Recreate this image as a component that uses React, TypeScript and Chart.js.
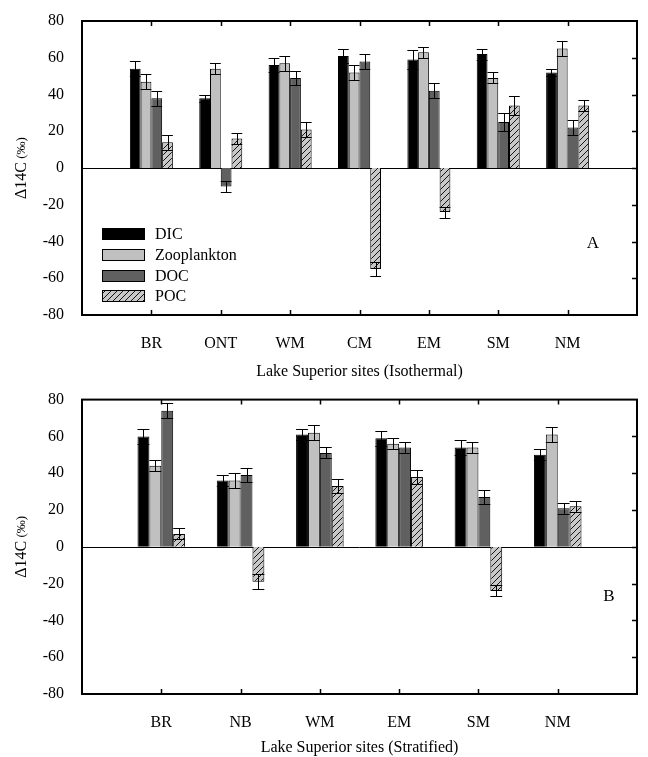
import React, { useEffect, useRef } from "react";
import { Chart, registerables } from "chart.js";
Chart.register(...registerables);

// ---- data ----
const seriesNames = ["DIC", "Zooplankton", "DOC", "POC"];

const sitesA = ["BR", "ONT", "WM", "CM", "EM", "SM", "NM"];
const dicA = [54, 38, 56, 61, 59, 62, 52];
const dicErrA = [4, 2, 4, 4, 5, 3, 2];
const zooA = [47, 54, 57, 52, 63, 49, 65];
const zooErrA = [4, 3, 4, 4, 3, 3, 4];
const docA = [38, -10, 49, 58, 42, 25, 22];
const docErrA = [4, 3, 4, 4, 4, 5, 4];
const pocA = [14, 16, 21, -55, -24, 34, 34];
const pocErrA = [4, 3, 4, 4, 3, 5, 3];

const sitesB = ["BR", "NB", "WM", "EM", "SM", "NM"];
const dicB = [60, 36, 61, 59, 54, 50];
const dicErrB = [4, 3, 3, 4, 4, 3];
const zooB = [44, 36, 62, 56, 54, 61];
const zooErrB = [3, 4, 4, 3, 3, 4];
const docB = [74, 39, 51, 54, 27, 21];
const docErrB = [4, 4, 3, 3, 4, 3];
const pocB = [7, -19, 33, 38, -24, 22];
const pocErrB = [3, 4, 4, 4, 3, 3];

const yMin = -80;
const yMax = 80;
const yStep = 20;

const yTitleMain = "\u039414C";
const yTitleUnit = " (\u2030)";
const xTitleA = "Lake Superior sites (Isothermal)";
const xTitleB = "Lake Superior sites (Stratified)";

const FONT = "'Liberation Serif', 'Times New Roman', serif";

function makeHatch(): CanvasPattern | string {
  const c = document.createElement("canvas");
  c.width = 6;
  c.height = 6;
  const g = c.getContext("2d");
  if (!g) return "#c8c8c8";
  g.fillStyle = "#c8c8c8";
  g.fillRect(0, 0, 6, 6);
  g.strokeStyle = "#000";
  g.lineWidth = 0.9;
  g.beginPath();
  g.moveTo(0, 6);
  g.lineTo(6, 0);
  g.moveTo(-1, 1);
  g.lineTo(1, -1);
  g.moveTo(5, 7);
  g.lineTo(7, 5);
  g.stroke();
  const p = g.createPattern(c, "repeat");
  return p || "#c8c8c8";
}

type PanelProps = {
  sites: string[];
  values: number[][];
  errors: number[][];
  xTitle: string;
  letter: string;
  letterX: number;
  letterY: number;
  width: number;
  height: number;
  plotTop: number;
  plotBottom: number;
  plotLeft: number;
  plotRight: number;
  catPct: number;
  showLegend: boolean;
  top: number;
};

function Panel(props: PanelProps) {
  const ref = useRef<HTMLCanvasElement | null>(null);
  useEffect(() => {
    const canvas = ref.current;
    if (!canvas) return;
    const hatch = makeHatch();
    const fills: any[] = ["#000000", "#c0c0c0", "#606060", hatch];
    const labels = ["", ...props.sites, ""];
    const datasets = seriesNames.map((name, i) => ({
      label: name,
      data: [null, ...props.values[i], null],
      errors: [null, ...props.errors[i], null],
      backgroundColor: fills[i],
      borderColor: "#000",
      borderWidth: 1,
      categoryPercentage: props.catPct,
      barPercentage: 1,
    }));

    const decor = {
      id: "decor",
      beforeDatasetsDraw(chart: any) {
        const { ctx, chartArea } = chart;
        const y0 = Math.round(chart.scales.y.getPixelForValue(0)) + 0.5;
        ctx.save();
        ctx.strokeStyle = "#000";
        ctx.lineWidth = 1;
        ctx.beginPath();
        ctx.moveTo(chartArea.left, y0);
        ctx.lineTo(chartArea.right, y0);
        ctx.stroke();
        ctx.restore();
      },
      afterDatasetsDraw(chart: any) {
        const { ctx, chartArea } = chart;
        const ys = chart.scales.y;
        const xs = chart.scales.x;
        ctx.save();
        // error bars
        ctx.strokeStyle = "#000";
        ctx.lineWidth = 1;
        chart.data.datasets.forEach((ds: any, di: number) => {
          const meta = chart.getDatasetMeta(di);
          meta.data.forEach((el: any, j: number) => {
            const v = ds.data[j];
            const e = ds.errors[j];
            if (v === null || v === undefined || e === null) return;
            const x = Math.round(el.x) + 0.5;
            const hw = el.width / 2;
            const yHi = Math.round(ys.getPixelForValue(v + e)) + 0.5;
            const yLo = Math.round(ys.getPixelForValue(v - e)) + 0.5;
            ctx.beginPath();
            ctx.moveTo(x, yLo);
            ctx.lineTo(x, yHi);
            ctx.moveTo(el.x - hw, yHi);
            ctx.lineTo(el.x + hw, yHi);
            ctx.moveTo(el.x - hw, yLo);
            ctx.lineTo(el.x + hw, yLo);
            ctx.stroke();
          });
        });
        // frame
        ctx.lineWidth = 2;
        ctx.strokeRect(
          chartArea.left,
          chartArea.top,
          chartArea.right - chartArea.left,
          chartArea.bottom - chartArea.top
        );
        // inward ticks
        ctx.lineWidth = 1.5;
        ctx.beginPath();
        for (let i = 1; i < labels.length - 1; i++) {
          const px = Math.round(xs.getPixelForTick(i)) + 0.5;
          ctx.moveTo(px, chartArea.top);
          ctx.lineTo(px, chartArea.top + 5);
          ctx.moveTo(px, chartArea.bottom);
          ctx.lineTo(px, chartArea.bottom - 5);
        }
        for (let v = yMin + yStep; v < yMax; v += yStep) {
          const py = Math.round(ys.getPixelForValue(v)) + 0.5;
          ctx.moveTo(chartArea.right, py);
          ctx.lineTo(chartArea.right - 5, py);
        }
        ctx.stroke();
        // legend
        if (props.showLegend) {
          const lx = 102;
          const rows = [234, 255, 276, 296];
          ctx.font = `16px ${FONT}`;
          ctx.textBaseline = "middle";
          ctx.textAlign = "left";
          chart.data.datasets.forEach((ds: any, i: number) => {
            const cy = rows[i];
            ctx.fillStyle = ds.backgroundColor;
            ctx.fillRect(lx, cy - 6, 43, 12);
            ctx.lineWidth = 1;
            ctx.strokeStyle = "#000";
            ctx.strokeRect(lx + 0.5, cy - 6 + 0.5, 42, 11);
            ctx.fillStyle = "#000";
            ctx.fillText(ds.label, 155, cy + 1);
          });
        }
        // panel letter
        ctx.fillStyle = "#000";
        ctx.font = `17px ${FONT}`;
        ctx.textAlign = "center";
        ctx.textBaseline = "middle";
        ctx.fillText(props.letter, props.letterX, props.letterY);
        // y title
        const cyT = (chartArea.top + chartArea.bottom) / 2;
        ctx.translate(22, cyT);
        ctx.rotate(-Math.PI / 2);
        ctx.font = `16px ${FONT}`;
        const w1 = ctx.measureText(yTitleMain).width;
        ctx.font = `13px ${FONT}`;
        const w2 = ctx.measureText(yTitleUnit).width;
        const start = -(w1 + w2) / 2;
        ctx.textAlign = "left";
        ctx.font = `16px ${FONT}`;
        ctx.fillText(yTitleMain, start, 0);
        ctx.font = `13px ${FONT}`;
        ctx.fillText(yTitleUnit, start + w1, 0);
        ctx.restore();
      },
    };

    const chart = new Chart(canvas, {
      type: "bar",
      data: { labels, datasets: datasets as any },
      options: {
        responsive: false,
        animation: false,
        devicePixelRatio: 1,
        layout: {
          padding: {
            top: props.plotTop,
            right: props.width - props.plotRight,
            left: 0,
            bottom: 0,
          },
        },
        plugins: {
          legend: { display: false },
          tooltip: { enabled: false },
        },
        scales: {
          x: {
            type: "category",
            offset: false,
            grid: { display: false },
            border: { display: false },
            ticks: {
              autoSkip: false,
              maxRotation: 0,
              padding: 11,
              color: "#000",
              font: { family: FONT, size: 16 },
            },
            title: {
              display: true,
              text: props.xTitle,
              color: "#000",
              font: { family: FONT, size: 16 },
              padding: { top: 0, bottom: 0 },
            },
            afterFit: (s: any) => {
              s.height = props.height - props.plotBottom;
            },
          },
          y: {
            min: yMin,
            max: yMax,
            grid: { display: false },
            border: { display: false },
            ticks: {
              stepSize: yStep,
              padding: 10,
              color: "#000",
              font: { family: FONT, size: 16 },
            },
            afterFit: (s: any) => {
              s.width = props.plotLeft;
            },
          },
        },
      },
      plugins: [decor],
    } as any);
    return () => chart.destroy();
  }, []);
  return (
    <canvas
      ref={ref}
      width={props.width}
      height={props.height}
      style={{
        position: "absolute",
        left: 0,
        top: props.top,
        width: props.width,
        height: props.height,
      }}
    />
  );
}

export default function App() {
  return (
    <div
      style={{
        position: "absolute",
        left: 0,
        top: 0,
        width: 648,
        height: 757,
        background: "#fff",
      }}
    >
      <Panel
        sites={sitesA}
        values={[dicA, zooA, docA, pocA]}
        errors={[dicErrA, zooErrA, docErrA, pocErrA]}
        xTitle={xTitleA}
        letter="A"
        letterX={593}
        letterY={244}
        width={648}
        height={381}
        plotTop={21}
        plotBottom={315}
        plotLeft={82}
        plotRight={646}
        catPct={0.62}
        showLegend={true}
        top={0}
      />
      <Panel
        sites={sitesB}
        values={[dicB, zooB, docB, pocB]}
        errors={[dicErrB, zooErrB, docErrB, pocErrB]}
        xTitle={xTitleB}
        letter="B"
        letterX={609}
        letterY={217}
        width={648}
        height={377}
        plotTop={17}
        plotBottom={314}
        plotLeft={82}
        plotRight={646}
        catPct={0.6}
        showLegend={false}
        top={380}
      />
    </div>
  );
}
